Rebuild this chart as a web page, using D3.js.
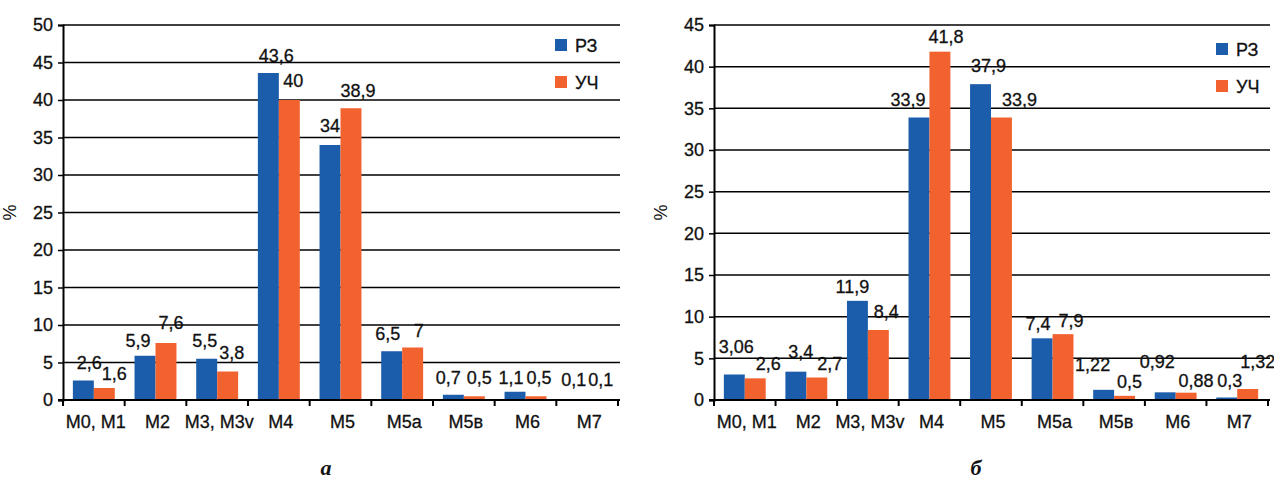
<!DOCTYPE html>
<html>
<head>
<meta charset="utf-8">
<script src="https://cdn.jsdelivr.net/npm/d3@7"></script>
<style>
  html, body { margin: 0; padding: 0; background: #fff; }
  svg { display: block; }
  text { font-family: "Liberation Sans", Arial, sans-serif; fill: #111; }
</style>
</head>
<body>
<svg id="chart" width="1274" height="481"></svg>
<script>
// Distribution of groups (%), two samples
const categories = ["M0, M1", "M2", "M3, M3v", "M4", "M5", "M5a", "M5в", "M6", "M7"];
const seriesNames = ["РЗ", "УЧ"];

// panel "а"
const rzA  = [2.6, 5.9, 5.5, 43.6, 34, 6.5, 0.7, 1.1, 0.1];
const uchA = [1.6, 7.6, 3.8, 40, 38.9, 7, 0.5, 0.5, 0.1];
const ticksA = [0, 5, 10, 15, 20, 25, 30, 35, 40, 45, 50];

// panel "б"
const rzB  = [3.06, 3.4, 11.9, 33.9, 37.9, 7.4, 1.22, 0.92, 0.3];
const uchB = [2.6, 2.7, 8.4, 41.8, 33.9, 7.9, 0.5, 0.88, 1.32];
const ticksB = [0, 5, 10, 15, 20, 25, 30, 35, 40, 45];

const panelLabels = ["а", "б"];

// value-label nudges [dx, dy] relative to the default spot above each bar,
// so that neighbouring labels do not run into each other
const nudgeRzA  = [[6, 0], [-7, 3], [-2, 0], [8, 1], [0, -1], [-4, 1], [-5, 1], [-4, 4], [-3, -1]];
const nudgeUchA = [[10, 4], [5, -2], [4, -1], [4, -1], [7, 1], [6, 1], [5, 0], [3, 0], [3, -1]];
const nudgeRzB  = [[2, -10], [5, -2], [-5, 4], [-11, 0], [8, 0], [-4, 4], [-11, -7], [-8, -12], [3, 1]];
const nudgeUchB = [[13, 4], [13, 4], [8, 0], [6, 3], [18, 0], [8, 5], [5, 4], [10, 6], [10, -9]];

const colors = ["#1b5cab", "#f2622f"];

const svg = d3.select("#chart");
const fmt = v => String(v).replace(".", ",");

function drawPanel(opts) {
  const { left, right, top, bottom, ticks, series, nudges, legendX, legendY, caption, captionX } = opts;
  const g = svg.append("g");

  const y = d3.scaleLinear().domain([0, d3.max(ticks)]).range([bottom, top]);
  const x0 = d3.scaleBand().domain(categories).range([left, right])
    .paddingInner(0.32).paddingOuter(0.16);
  const x1 = d3.scaleBand().domain(seriesNames).range([0, x0.bandwidth()]);

  // horizontal gridlines
  g.append("g").selectAll("line").data(ticks.filter(t => t > 0)).join("line")
    .attr("x1", left).attr("x2", right + 2)
    .attr("y1", d => y(d)).attr("y2", d => y(d))
    .attr("stroke", "#000").attr("stroke-width", 1.5);

  // bars
  const groups = g.append("g").selectAll("g").data(categories).join("g")
    .attr("transform", c => `translate(${x0(c)},0)`);
  groups.selectAll("rect")
    .data((c, i) => series.map((s, k) => ({ name: seriesNames[k], v: s[i], k })))
    .join("rect")
    .attr("x", d => x1(d.name))
    .attr("width", x1.bandwidth())
    .attr("y", d => y(d.v))
    .attr("height", d => y(0) - y(d.v))
    .attr("fill", d => colors[d.k]);

  // y axis
  const yAxis = d3.axisLeft(y).tickValues(ticks).tickSize(5).tickPadding(5);
  const ya = g.append("g").attr("transform", `translate(${left},0)`).call(yAxis);
  ya.select(".domain").attr("stroke", "#000").attr("stroke-width", 2);
  ya.selectAll(".tick line").attr("stroke", "#000").attr("stroke-width", 1.5);
  ya.selectAll("text").style("font-size", "18px").attr("fill", "#111")
    .attr("stroke", "#111").attr("stroke-width", 0.3);

  // x axis: baseline with tick marks between categories
  g.append("line").attr("x1", left - 5).attr("x2", right + 2)
    .attr("y1", y(0)).attr("y2", y(0)).attr("stroke", "#000").attr("stroke-width", 2);
  const bounds = categories.map(c => x0(c) - x0.step() * x0.paddingInner() / 2)
    .concat([right]);
  g.append("g").selectAll("line").data(bounds).join("line")
    .attr("x1", d => d).attr("x2", d => d)
    .attr("y1", y(0)).attr("y2", y(0) + 6)
    .attr("stroke", "#000").attr("stroke-width", 2);
  g.append("g").selectAll("text").data(categories).join("text")
    .attr("x", c => x0(c) + x0.bandwidth() / 2 + 2)
    .attr("y", y(0) + 28)
    .attr("text-anchor", "middle")
    .style("font-size", "18px")
    .attr("stroke", "#111").attr("stroke-width", 0.3)
    .text(c => c);

  // value labels above bars
  categories.forEach((c, i) => {
    series.forEach((s, k) => {
      const [dx, dy] = nudges[k][i];
      g.append("text")
        .attr("x", x0(c) + x1(seriesNames[k]) + x1.bandwidth() / 2 + dx)
        .attr("y", y(s[i]) - 12 + dy)
        .attr("text-anchor", "middle")
        .style("font-size", "18px")
        .attr("stroke", "#111").attr("stroke-width", 0.3)
        .text(fmt(s[i]));
    });
  });

  // y axis title
  g.append("text")
    .attr("transform", `translate(${left - 47},${(top + bottom) / 2}) rotate(-90)`)
    .attr("text-anchor", "middle")
    .style("font-size", "18px")
    .text("%");

  // legend
  const lg = g.append("g").attr("transform", `translate(${legendX},${legendY})`);
  seriesNames.forEach((n, k) => {
    lg.append("rect").attr("x", 0).attr("y", k * 37).attr("width", 12).attr("height", 12)
      .attr("fill", colors[k]);
    lg.append("text").attr("x", 20).attr("y", k * 37 + 13)
      .style("font-size", "18px")
      .attr("stroke", "#111").attr("stroke-width", 0.3)
      .text(n);
  });

  // panel caption
  g.append("text")
    .attr("x", captionX).attr("y", 475)
    .attr("text-anchor", "middle")
    .style("font-family", "'Liberation Serif', 'DejaVu Serif', serif")
    .style("font-size", "22px").style("font-weight", "bold").style("font-style", "italic")
    .text(caption);
}

drawPanel({
  left: 63, right: 618, top: 25, bottom: 400, ticks: ticksA,
  series: [rzA, uchA], nudges: [nudgeRzA, nudgeUchA],
  legendX: 555, legendY: 39, caption: panelLabels[0], captionX: 326
});

drawPanel({
  left: 714, right: 1268, top: 25, bottom: 400, ticks: ticksB,
  series: [rzB, uchB], nudges: [nudgeRzB, nudgeUchB],
  legendX: 1216, legendY: 43, caption: panelLabels[1], captionX: 976
});
</script>
</body>
</html>
